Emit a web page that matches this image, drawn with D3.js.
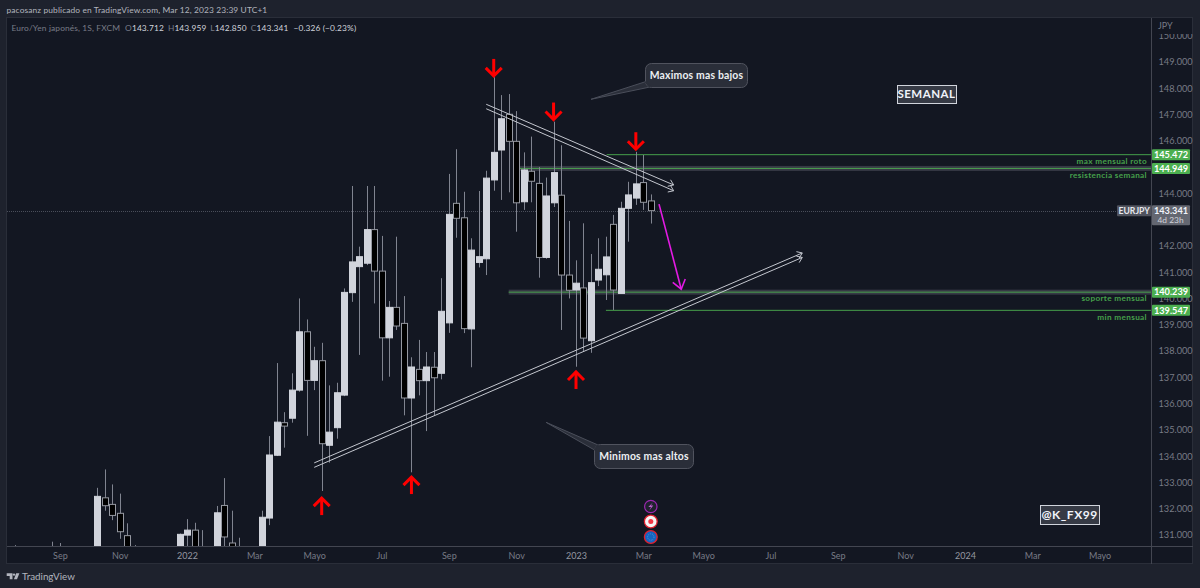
<!DOCTYPE html>
<html>
<head>
<meta charset="utf-8">
<script src="https://cdn.jsdelivr.net/npm/d3@7/dist/d3.min.js"></script>
<style>
html,body{margin:0;padding:0;background:#1e222d;overflow:hidden}
svg{display:block}
text{font-family:Lato,sans-serif}
</style>
</head>
<body>
<div id="chart"></div>
<script>
// EUR/JPY weekly candles; week 0 is the first week of October 2021.
const weeks = [-11,-6,-5,0,1,2,3,4,5,11,12,13,14,16,17,18,19,22,23,24,25,26,27,28,29,30,31,32,33,34,35,36,37,38,39,40,41,42,43,44,45,46,47,48,49,50,51,52,53,54,55,56,57,58,59,60,61,62,63,64,65,66,67,68,69,70,71,72,73,74];
const opens = [130.2,130.3,130.3,130.2,132.41,132.16,131.82,130.97,130.3,130.2,130.99,131.18,130.4,130.3,132.12,130.69,130.4,130.4,131.64,134.03,135.27,135.44,136.51,138.73,136.88,137.63,134.41,135.08,136.32,140.22,141.21,141.34,142.62,141.04,138.50,139.66,139.05,136.21,137.30,136.87,137.38,137.15,139.07,143.62,143.07,138.84,141.37,141.51,144.51,145.65,147.01,145.98,143.68,144.84,144.38,141.56,143.64,143.93,140.89,140.32,140.40,138.39,140.70,140.90,142.82,140.19,143.43,143.82,144.41,143.712];
const highs = [130.61,130.74,130.69,132.79,133.49,132.92,132.57,131.44,130.61,131.05,131.60,131.46,131.18,132.10,133.16,131.92,130.89,131.92,134.76,137.54,135.67,137.15,140.00,139.20,138.16,138.31,136.69,136.79,140.38,144.28,141.97,144.28,144.28,142.38,139.90,142.35,140.09,137.76,138.42,137.96,137.96,140.77,144.74,145.68,144.06,142.29,144.09,144.86,148.42,147.74,147.78,147.13,145.56,146.16,145.00,144.60,146.73,145.83,142.95,141.45,142.86,141.69,142.29,142.35,143.18,143.68,144.44,145.58,145.46,143.959];
const lows = [130.0,130.0,130.0,130.0,131.92,131.56,130.85,129.9,129.8,130.0,130.3,130.0,130.1,130.1,130.2,130.0,130.1,130.2,131.37,134.00,134.32,135.27,136.45,134.77,136.51,132.67,133.75,134.66,136.28,139.87,137.85,141.27,139.81,136.87,137.02,138.80,135.55,133.38,136.31,134.95,135.53,136.92,138.69,142.31,138.68,137.38,141.18,140.89,144.10,143.75,144.04,142.54,143.37,143.66,140.79,141.51,143.48,138.80,140.00,137.40,137.97,137.93,140.47,139.94,139.56,140.19,142.16,143.56,143.37,142.850];
const closes = [130.1,130.1,130.1,132.466,132.11,131.74,131.12,130.1,130.1,131.02,131.18,130.2,130.3,131.84,130.92,130.3,130.3,131.67,134.04,135.29,135.14,136.51,138.73,136.88,137.63,134.47,134.91,136.41,140.23,141.39,141.59,142.62,141.04,138.50,139.66,138.95,136.21,137.39,136.87,137.39,136.98,139.51,143.20,143.05,138.85,141.84,141.59,144.58,145.56,146.84,145.98,143.64,144.89,144.46,141.56,143.90,144.79,140.89,140.31,140.58,138.49,140.60,141.11,141.58,140.32,143.43,143.94,144.36,143.66,143.341];

const priceTicks = [150,149,148,147,146,144,142,141,140,139,138,137,136,135,134,133,132,131];
const timeTickWeeks = [-5,3,12,21,29,38,47,56,64,73,81,90,99,108,116,125,134];
const timeTickLabels = ["Sep","Nov","2022","Mar","Mayo","Jul","Sep","Nov","2023","Mar","Mayo","Jul","Sep","Nov","2024","Mar","Mayo"];

const levelPrices = [145.472,144.949,140.239,139.547];
const levelNames = ["max mensual roto","resistencia semanal","soporte mensual","min mensual"];
const levelStartWeeks = [68.1,56.5,55.0,68.0];
const levelBands = [false,true,true,false];

// Trendline pairs as [week, price] end points.
const upperTrend = [[[52.0,147.39],[77.05,144.32]],[[52.0,147.22],[77.05,144.10]]];
const lowerTrend = [[[29.0,133.74],[94.25,141.73]],[[29.0,133.57],[94.25,141.56]]];
const forecastArrow = [[75.1,143.59],[78.07,140.35]];

// Red markers: tip of each arrow as [week, price].
const downMarkers = [[53,148.47],[61,146.81],[72,145.68]];
const upMarkers = [[30,132.4],[42,133.2],[64,137.2]];

const lastPrice = 143.341;
const ohlcLabels = ["O","H","L","C"];
const ohlcValues = ["143.712","143.959","142.850","143.341"];

const svg = d3.select("#chart").append("svg").attr("width",1200).attr("height",588);

const x = d3.scaleLinear().domain([0,74]).range([97.3,650.8]);
const y = d3.scaleLinear().domain([149,131]).range([62,534.86]);

const PANE = {l:7,t:18,r:1193,b:564,axisX:1151.5,axisY:546.5};
const UP="#d1d4dc", DOWN="#000000", EDGE="#9598a1", WICK="#808490", GREEN="#4caf50";
const FONT="Lato,sans-serif";

const defs = svg.append("defs");
defs.append("clipPath").attr("id","plot").append("rect")
  .attr("x",PANE.l).attr("y",PANE.t).attr("width",PANE.axisX-PANE.l).attr("height",PANE.axisY-PANE.t);
defs.append("clipPath").attr("id","scale").append("rect")
  .attr("x",PANE.axisX).attr("y",34).attr("width",PANE.r-PANE.axisX).attr("height",PANE.axisY-34);

// Frame
svg.append("rect").attr("width",1200).attr("height",588).attr("fill","#1e222d");
svg.append("rect").attr("x",PANE.l-.5).attr("y",PANE.t-.5).attr("width",PANE.r-PANE.l).attr("height",PANE.b-PANE.t)
  .attr("fill","#131722").attr("stroke","#2a2e39");

svg.append("text").attr("x",6.5).attr("y",13).attr("fill","#b2b5be").attr("font-size",8.4).attr("letter-spacing",.12)
  .text("pacosanz publicado en TradingView.com, Mar 12, 2023 23:39 UTC+1");

// Legend line
const legend = svg.append("text").attr("x",11.5).attr("y",31).attr("font-size",8.4).attr("letter-spacing",.12);
legend.append("tspan").attr("fill","#787b86").text("Euro/Yen japonés, 1S, FXCM");
ohlcLabels.forEach((k,i)=>{
  legend.append("tspan").attr("fill","#787b86").attr("dx",i?4:5).text(k);
  legend.append("tspan").attr("fill","#d1d4dc").text(ohlcValues[i]);
});
legend.append("tspan").attr("fill","#d1d4dc").attr("dx",5).text("−0.326 (−0.23%)");

// Last price guide
const plot = svg.append("g").attr("clip-path","url(#plot)");
plot.append("line").attr("x1",PANE.l).attr("x2",PANE.axisX)
  .attr("y1",Math.round(y(lastPrice))+.5).attr("y2",Math.round(y(lastPrice))+.5)
  .attr("stroke","#4a4e5a").attr("stroke-dasharray","1 1");

// Horizontal levels
levelPrices.forEach((p,i)=>{
  const yy = y(p), x0 = x(levelStartWeeks[i]);
  if(levelBands[i]) plot.append("rect").attr("x",x0).attr("y",yy-2.5).attr("width",PANE.axisX-x0).attr("height",5).attr("fill","#434651").attr("opacity",.75);
  plot.append("line").attr("x1",x0).attr("x2",PANE.axisX).attr("y1",yy).attr("y2",yy).attr("stroke",GREEN).attr("stroke-width",1).attr("opacity",.9);
  svg.append("text").attr("x",1147).attr("y",yy+9.3).attr("text-anchor","end").attr("fill",GREEN).attr("opacity",.9)
    .attr("font-size",8.2).attr("font-weight",700).attr("letter-spacing",.35).text(levelNames[i]);
});

// Candles
const idx = d3.range(weeks.length);
const candles = plot.append("g");
candles.selectAll("line").data(idx).join("line")
  .attr("x1",i=>Math.round(x(weeks[i]))+.5).attr("x2",i=>Math.round(x(weeks[i]))+.5)
  .attr("y1",i=>y(highs[i])).attr("y2",i=>y(lows[i]))
  .attr("stroke",WICK).attr("stroke-width",1);
candles.selectAll("rect").data(idx).join("rect")
  .attr("x",i=>Math.round(x(weeks[i]))-2.5).attr("width",6)
  .attr("y",i=>y(Math.max(opens[i],closes[i])))
  .attr("height",i=>Math.max(1,Math.abs(y(opens[i])-y(closes[i]))))
  .attr("fill",i=>closes[i]>=opens[i]?UP:DOWN)
  .attr("stroke",i=>closes[i]>=opens[i]?UP:EDGE).attr("stroke-width",1);

// Line with an open arrow head at its end
function arrowLine(g,a,b,color,width,wing){
  const x0=x(a[0]),y0=y(a[1]),x1=x(b[0]),y1=y(b[1]),ang=Math.atan2(y1-y0,x1-x0),spread=Math.PI*.2;
  g.append("line").attr("x1",x0).attr("y1",y0).attr("x2",x1).attr("y2",y1).attr("stroke",color).attr("stroke-width",width);
  g.append("path").attr("fill","none").attr("stroke",color).attr("stroke-width",width)
    .attr("d",d3.line()([[x1-wing*Math.cos(ang-spread),y1-wing*Math.sin(ang-spread)],[x1,y1],[x1-wing*Math.cos(ang+spread),y1-wing*Math.sin(ang+spread)]]));
}
const drawings = svg.append("g");
[...upperTrend,...lowerTrend].forEach(t=>arrowLine(drawings,t[0],t[1],"#c4c7cf",1,6));
arrowLine(drawings,forecastArrow[0],forecastArrow[1],"#e31be3",1.6,11);

// Red markers
function marker(d,dir){
  const px=x(d[0]), tip=y(d[1]);
  const g=svg.append("g").attr("fill","none").attr("stroke","#ff0000").attr("stroke-width",3);
  g.append("path").attr("d",d3.line()([[px,tip],[px,tip-dir*17]]));
  g.append("path").attr("d",d3.line()([[px-8,tip-dir*8],[px,tip],[px+8,tip-dir*8]]));
}
downMarkers.forEach(d=>marker(d,1));
upMarkers.forEach(d=>marker(d,-1));

// Speech-bubble notes
function bubble(tip,base1,base2,box,label){
  const g=svg.append("g");
  g.append("path").attr("d",d3.line()([base1,tip,base2])+"Z").attr("fill","#2a2e39").attr("stroke","#4a4e5a");
  g.append("rect").attr("x",box[0]).attr("y",box[1]).attr("width",box[2]).attr("height",box[3]).attr("rx",6)
    .attr("fill","#2a2e39").attr("stroke","#50535e");
  g.append("path").attr("d",d3.line()([base1,base2])).attr("stroke","#2a2e39").attr("stroke-width",2);
  g.append("text").attr("x",box[0]+box[2]/2).attr("y",box[1]+box[3]/2+3.6).attr("text-anchor","middle")
    .attr("fill","#eceef2").attr("font-size",10.4).attr("font-weight",700).attr("letter-spacing",.2).text(label);
}
bubble([591,99.3],[645.5,81.7],[650,87],[645.5,63.5,102,24],"Maximos mas bajos");
bubble([546,422.3],[598,445],[594.5,450],[594.5,444.5,99,24],"Minimos mas altos");

// Boxed captions
function caption(box,label,size){
  svg.append("rect").attr("x",box[0]+.5).attr("y",box[1]+.5).attr("width",box[2]).attr("height",box[3])
    .attr("fill","#363a45").attr("stroke","#d1d4dc");
  svg.append("text").attr("x",box[0]+box[2]/2).attr("y",box[1]+box[3]/2+4.3).attr("text-anchor","middle")
    .attr("fill","#f0f3fa").attr("font-size",size).attr("font-weight",700).attr("letter-spacing",.5).text(label);
}
caption([897,85,59,18],"SEMANAL",11.5);
caption([1040,505,59,19],"@K_FX99",12);

// Event badges
const bx = x(74), badge = svg.append("g");
badge.append("circle").attr("cx",bx).attr("cy",506.5).attr("r",6.2).attr("fill","#1e222d").attr("stroke","#9c27b0").attr("stroke-width",1.2);
badge.append("path").attr("d",`M${bx+2},${502.5}L${bx-2.5},${507}H${bx+.2}L${bx-1.5},${510.5}L${bx+2.5},${505.5}H${bx}Z`).attr("fill","#ba5ccb");
badge.append("circle").attr("cx",bx).attr("cy",521.5).attr("r",6.4).attr("fill","#f5f5f5").attr("stroke","#e0202e").attr("stroke-width",1.3);
badge.append("circle").attr("cx",bx).attr("cy",521.5).attr("r",2.5).attr("fill","#f23645");
badge.append("circle").attr("cx",bx).attr("cy",537).attr("r",6.4).attr("fill","#1565c0").attr("stroke","#e0202e").attr("stroke-width",1.3);
badge.append("circle").attr("cx",bx).attr("cy",537).attr("r",3.2).attr("fill","none").attr("stroke","#4d93e0").attr("stroke-dasharray","1 1");

// Axes
const timeAxis = d3.axisBottom(x).tickValues(timeTickWeeks).tickSize(0).tickPadding(6)
  .tickFormat(w=>timeTickLabels[timeTickWeeks.indexOf(w)]);
const tg = svg.append("g").attr("transform",`translate(0,${PANE.axisY})`).call(timeAxis);
tg.select(".domain").remove();
tg.selectAll("text").attr("fill","#787b86").attr("font-size",9).attr("font-family",FONT);
tg.selectAll(".tick").filter(w=>w===12||w===64||w===116).select("text").attr("fill","#9598a1");

const priceAxis = d3.axisRight(y).tickValues(priceTicks).tickSize(0).tickPadding(7).tickFormat(d3.format(".3f"));
const pg = svg.append("g").attr("clip-path","url(#scale)").append("g").attr("transform",`translate(${PANE.axisX},0)`).call(priceAxis);
pg.select(".domain").remove();
pg.selectAll("text").attr("fill","#787b86").attr("font-size",9.2).attr("font-family",FONT);

svg.append("line").attr("x1",PANE.l).attr("x2",PANE.r).attr("y1",PANE.axisY).attr("y2",PANE.axisY).attr("stroke","#434651");
svg.append("line").attr("x1",PANE.axisX).attr("x2",PANE.axisX).attr("y1",PANE.t).attr("y2",PANE.b).attr("stroke","#434651");
svg.append("text").attr("x",1158).attr("y",29).attr("fill","#787b86").attr("font-size",9).text("JPY");

// Price tags on the scale
levelPrices.forEach(p=>{
  const yy=y(p);
  svg.append("rect").attr("x",PANE.axisX+.5).attr("y",yy-5.5).attr("width",38).attr("height",11).attr("rx",1).attr("fill",GREEN);
  svg.append("text").attr("x",PANE.axisX+19.5).attr("y",yy+3.3).attr("text-anchor","middle").attr("fill","#fff").attr("font-size",9.2).attr("font-weight",700).text(d3.format(".3f")(p));
});
const ly=y(lastPrice);
svg.append("rect").attr("x",PANE.axisX+.5).attr("y",ly-5.5).attr("width",38).attr("height",20).attr("rx",1).attr("fill","#646771");
svg.append("text").attr("x",PANE.axisX+19.5).attr("y",ly+3.2).attr("text-anchor","middle").attr("fill","#f0f3fa").attr("font-size",9.2).attr("font-weight",700).text(d3.format(".3f")(lastPrice));
svg.append("text").attr("x",PANE.axisX+6).attr("y",ly+12.5).attr("fill","#d1d4dc").attr("font-size",8.4).text("4d 23h");
svg.append("rect").attr("x",1117).attr("y",ly-5.5).attr("width",34.5).attr("height",11).attr("rx",1).attr("fill","#50535e");
svg.append("text").attr("x",1134.2).attr("y",ly+3.2).attr("text-anchor","middle").attr("fill","#e6e8ee").attr("font-size",8.6).attr("font-weight",700).text("EURJPY");

// Footer mark
const logo = svg.append("g").attr("fill","#b2b5be");
logo.append("path").attr("d","M6.7,573.3H12.5V579.3H9.7V576H6.7Z");
logo.append("circle").attr("cx",14).attr("cy",574.6).attr("r",1.2);
logo.append("path").attr("d","M16.2,573.3H19.4L17,579.3H13.9Z");
svg.append("text").attr("x",22).attr("y",580).attr("fill","#b2b5be").attr("font-size",9.8).text("TradingView");
</script>
</body>
</html>
